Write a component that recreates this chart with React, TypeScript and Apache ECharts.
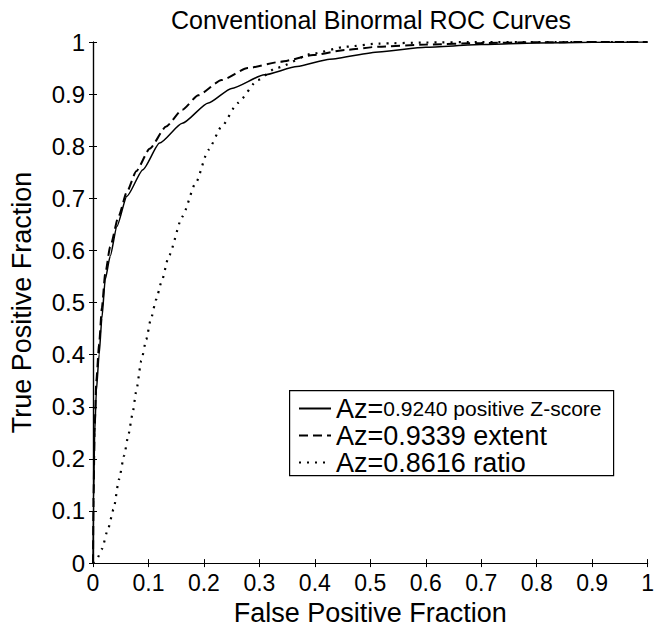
import React, { useEffect, useRef } from "react";
import * as echarts from "echarts";

const TITLE = "Conventional Binormal ROC Curves";
const X_NAME = "False Positive Fraction";
const Y_NAME = "True Positive Fraction";

const SERIES_NAMES = [
  "Az=0.9240 positive Z-score",
  "Az=0.9339 extent",
  "Az=0.8616 ratio",
];

// Az = 0.9240 positive Z-score (solid)
const SOLID_FPF = [0, 0.001, 0.003, 0.006, 0.011, 0.016, 0.022, 0.031, 0.043, 0.061, 0.09, 0.12, 0.161, 0.208, 0.25, 0.309, 0.368, 0.427, 0.515, 0.6, 0.7, 0.8, 0.9, 1];
const SOLID_TPF = [0, 0.12, 0.25, 0.33, 0.4, 0.47, 0.544, 0.589, 0.646, 0.704, 0.755, 0.806, 0.844, 0.883, 0.911, 0.937, 0.953, 0.967, 0.981, 0.99, 0.995, 0.998, 0.9995, 1];

// Az = 0.9339 extent (dashed)
const DASH_FPF = [0, 0.001, 0.003, 0.006, 0.011, 0.016, 0.022, 0.031, 0.046, 0.061, 0.078, 0.102, 0.132, 0.161, 0.19, 0.232, 0.279, 0.338, 0.397, 0.456, 0.515, 0.6, 0.7, 0.8, 0.9, 1];
const DASH_TPF = [0, 0.13, 0.26, 0.35, 0.42, 0.49, 0.555, 0.607, 0.665, 0.712, 0.752, 0.795, 0.838, 0.87, 0.898, 0.927, 0.95, 0.962, 0.975, 0.985, 0.991, 0.995, 0.998, 0.9995, 1, 1];

// Az = 0.8616 ratio (dotted)
const DOT_FPF = [0, 0.0077, 0.016, 0.027, 0.037, 0.047, 0.056, 0.064, 0.071, 0.078, 0.087, 0.096, 0.104, 0.114, 0.123, 0.137, 0.161, 0.185, 0.208, 0.232, 0.261, 0.297, 0.33, 0.397, 0.456, 0.515, 0.6, 0.7, 0.8, 1];
const DOT_TPF = [0, 0.009, 0.027, 0.065, 0.103, 0.161, 0.206, 0.247, 0.285, 0.33, 0.388, 0.429, 0.467, 0.506, 0.538, 0.59, 0.665, 0.729, 0.793, 0.838, 0.883, 0.927, 0.95, 0.978, 0.991, 0.997, 0.999, 1, 1, 1];

const FONT = "Liberation Sans, Arial, Helvetica, sans-serif";

function zip(xs: number[], ys: number[]) {
  return xs.map((x, i) => [x, ys[i]]);
}

export default function App() {
  const ref = useRef<HTMLDivElement>(null);
  useEffect(() => {
    if (!ref.current) return;
    const chart = echarts.init(ref.current, undefined, { renderer: "svg" });
    const axisCommon = {
      type: "value" as const,
      min: 0,
      max: 1,
      interval: 0.1,
      splitLine: { show: false },
      axisLine: { show: true, lineStyle: { color: "#000", width: 1.2 } },
      axisTick: { show: true, inside: true, length: 4, lineStyle: { color: "#000", width: 1 } },
    };
    const lineBase = { type: "line" as const, symbol: "none", smooth: 0.2, smoothMonotone: "x" as const };
    chart.setOption({
      animation: false,
      backgroundColor: "#fff",
      textStyle: { fontFamily: FONT, color: "#000" },
      title: {
        text: TITLE,
        left: 366,
        textAlign: "center",
        top: 2,
        textStyle: { fontFamily: FONT, fontSize: 25, fontWeight: "normal", color: "#000" },
      },
      grid: { left: 89, right: 3, top: 42, bottom: 67 },
      xAxis: [
        {
          ...axisCommon,
          position: "bottom",
          name: X_NAME,
          nameLocation: "middle",
          nameGap: 31,
          nameTextStyle: { fontFamily: FONT, fontSize: 27, color: "#000" },
          axisLabel: { fontFamily: FONT, fontSize: 23, color: "#000", margin: 8 },
        },
        {
          ...axisCommon,
          position: "top",
          axisLabel: { show: false },
        },
      ],
      yAxis: [
        {
          ...axisCommon,
          position: "left",
          name: Y_NAME,
          nameLocation: "middle",
          nameGap: 58,
          nameTextStyle: { fontFamily: FONT, fontSize: 27, color: "#000" },
          axisLabel: { fontFamily: FONT, fontSize: 24, color: "#000", margin: 8 },
        },
        {
          ...axisCommon,
          position: "right",
          axisLabel: { show: false },
        },
      ],
      legend: {
        orient: "vertical",
        left: 290,
        top: 390,
        padding: [5, 8, 5, 8],
        itemWidth: 32,
        itemHeight: 14,
        itemGap: 0,
        data: SERIES_NAMES,
        selectedMode: false,
        itemStyle: { opacity: 0 },
        formatter: (name: string) => {
          const rest = name.slice(3);
          if (name === SERIES_NAMES[0]) return "{a|Az=}{s|" + rest + "}";
          return "{a|Az=}{a|" + rest + "}";
        },
        textStyle: {
          color: "#000",
          fontFamily: FONT,
          fontSize: 27,
          lineHeight: 25,
          rich: {
            a: { fontFamily: FONT, fontSize: 27, color: "#000", lineHeight: 25 },
            s: { fontFamily: FONT, fontSize: 21, color: "#000", lineHeight: 25 },
          },
        },
      },
      graphic: [
        {
          type: "rect",
          left: 289,
          top: 390,
          shape: { width: 324, height: 85 },
          style: { fill: "#fff", stroke: "#000", lineWidth: 1.2 },
          z: 1,
        },
      ],
      series: [
        {
          ...lineBase,
          name: SERIES_NAMES[0],
          data: zip(SOLID_FPF, SOLID_TPF),
          lineStyle: { color: "#000", width: 1.5, type: "solid" },
          itemStyle: { color: "#000" },
        },
        {
          ...lineBase,
          name: SERIES_NAMES[1],
          data: zip(DASH_FPF, DASH_TPF),
          lineStyle: { color: "#000", width: 2, type: [9, 5] },
          itemStyle: { color: "#000" },
        },
        {
          ...lineBase,
          name: SERIES_NAMES[2],
          data: zip(DOT_FPF, DOT_TPF),
          lineStyle: { color: "#000", width: 2.2, type: [2, 6] },
          itemStyle: { color: "#000" },
        },
      ],
    });
    return () => chart.dispose();
  }, []);
  return <div ref={ref} style={{ width: 657, height: 631, position: "absolute", left: 0, top: 0 }} />;
}
